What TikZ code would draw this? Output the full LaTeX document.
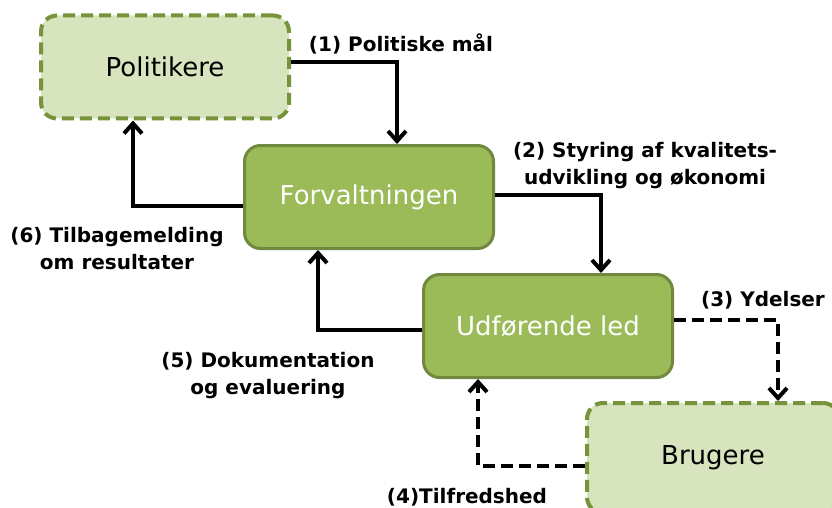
\documentclass[tikz,border=0pt]{standalone}
\usepackage{fontspec}
\setmainfont{DejaVu Sans}
\usetikzlibrary{arrows.meta,positioning,calc}
\definecolor{lgfill}{HTML}{D7E4BD}
\definecolor{lgline}{HTML}{77933C}
\definecolor{dgfill}{HTML}{9BBB59}
\definecolor{dgline}{HTML}{71893F}
\tikzset{
  lb/.style={rectangle,draw=lgline,fill=lgfill,line width=4pt,dash pattern=on 12pt off 6pt,rounded corners=16pt,minimum width=248pt,minimum height=103pt,font=\fontsize{26}{30}\selectfont},
  db/.style={rectangle,draw=dgline,fill=dgfill,line width=3pt,rounded corners=16pt,minimum width=249pt,minimum height=103pt,text=white,font=\fontsize{26}{30}\selectfont},
  arr/.style={-{Straight Barb[length=10pt,width=18pt,line width=4pt]},line width=4pt,black},
  darr/.style={arr,dash pattern=on 12pt off 6pt},
  lbl/.style={align=center,font=\fontsize{20}{27}\selectfont\bfseries},
}
\begin{document}
\begin{tikzpicture}[x=1pt,y=-1pt]
  \useasboundingbox (0,0) rectangle (832,508);
  \node[lb] (pol) at (165,67) {Politikere};
  \node[db] (forv) at (369,197) {Forvaltningen};
  \node[db] (udf) at (548,326) {Udførende led};
  \node[lb,minimum width=252pt,minimum height=110pt] (bru) at (713,458) {Brugere};
  \draw[arr] ([yshift=5pt]pol.east) -| ([xshift=28pt]forv.north);
  \draw[arr] ([yshift=2pt]forv.east) -| ([xshift=53pt]udf.north);
  \draw[darr] ([yshift=6pt]udf.east) -| ([xshift=65pt]bru.north);
  \draw[darr] ([yshift=-8pt]bru.west) -| ([xshift=-70pt]udf.south);
  \draw[arr] ([yshift=-4pt]udf.west) -| ([xshift=-51pt]forv.south);
  \draw[arr] ([yshift=-9pt]forv.west) -| ([xshift=-32pt]pol.south);
  \node[lbl] (l1) at (401,44) {(1) Politiske mål};
  \node[lbl] (l2) at (645,166) {(2) Styring af kvalitets-\\udvikling og økonomi};
  \node[lbl] (l3) at (763,300) {(3) Ydelser};
  \node[lbl] (l4) at (467,497) {(4)Tilfredshed};
  \node[lbl] (l5) at (268,376) {(5) Dokumentation\\og evaluering};
  \node[lbl] (l6) at (117,249) {(6) Tilbagemelding\\om resultater};
\end{tikzpicture}
\end{document}
